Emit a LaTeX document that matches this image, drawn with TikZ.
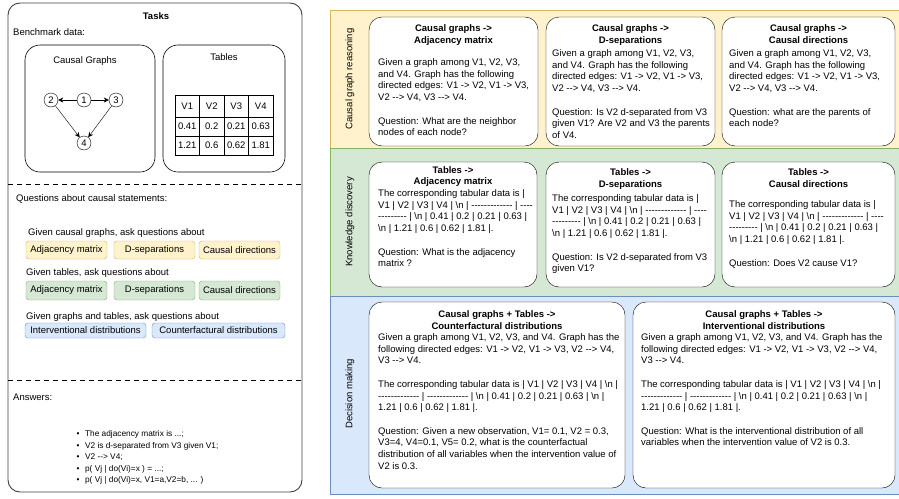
\documentclass[tikz,border=0pt]{standalone}
\usepackage{fontspec}
\setmainfont{Liberation Sans}[Ligatures=TeXOff]
\usetikzlibrary{arrows.meta}
\definecolor{ylwfill}{HTML}{FFF2CC}
\definecolor{ylwdraw}{HTML}{D6B656}
\definecolor{grnfill}{HTML}{D5E8D4}
\definecolor{grndraw}{HTML}{82B366}
\definecolor{blufill}{HTML}{DAE8FC}
\definecolor{bludraw}{HTML}{6C8EBF}
\newcommand{\bsn}{\textbackslash n}

\begin{document}
\begin{tikzpicture}[x=1pt, y=-1pt,
    font=\fontsize{9.5}{11.7}\selectfont,
    panel/.style={draw=black!75, line width=0.9pt, rounded corners=12pt, inner sep=0pt},
    card/.style={draw, fill=white, rounded corners=13pt, inner sep=0pt},
    head/.style={anchor=north, align=center, inner sep=0pt, font=\fontsize{9.5}{11.7}\selectfont\bfseries},
    body/.style={anchor=north west, align=left, inner sep=0pt},
    lbl/.style={anchor=west, inner sep=0pt},
    tagbox/.style={draw, rounded corners=3pt, inner sep=0pt, minimum width=81},
    ylwtag/.style={tagbox, fill=ylwfill, draw=ylwdraw, minimum height=18},
    grntag/.style={tagbox, fill=grnfill, draw=grndraw, minimum height=19},
    blutag/.style={tagbox, fill=blufill, draw=bludraw, minimum height=15},
    vtx/.style={circle, draw, minimum size=14, inner sep=0pt},
    edge/.style={-{Stealth[length=5pt, width=5pt]}},
    cell/.style={draw, minimum width=24.5, inner sep=0pt},
    sepline/.style={line width=0.9pt, dash pattern=on 5pt off 4pt}]

    \useasboundingbox (0,0) rectangle (899,498);
    \clip (0,0) rectangle (899,498);

    % Left panel
    \node[panel, minimum width=294, minimum height=489] (tasks) at (155,247.5) {};
    \node[font=\fontsize{9.5}{11.7}\selectfont\bfseries, inner sep=0pt] (taskstitle) at (156,16) {Tasks};
    \node[lbl] (bench) at (13,32) {Benchmark data:};

    % Benchmark boxes
    \node[panel, draw=black, line width=0.6pt, rounded corners=15pt, minimum width=130, minimum height=127] (cgbox) at (90,108.5) {};
    \node[inner sep=0pt] (cglabel) at (85,61) {Causal Graphs};
    \node[panel, draw=black, line width=0.6pt, rounded corners=15pt, minimum width=122, minimum height=127] (tbbox) at (224,108.5) {};
    \node[inner sep=0pt] (tblabel) at (224,57) {Tables};

    % Graph
    \node[vtx] (n2) at (51,100) {2};
    \node[vtx] (n1) at (84,100) {1};
    \node[vtx] (n3) at (116,100) {3};
    \node[vtx] (n4) at (84,143) {4};
    \draw[edge] (n1) -- (n2);
    \draw[edge] (n1) -- (n3);
    \draw[edge] (n2) -- (n4);
    \draw[edge] (n3) -- (n4);

    % Table
    \foreach \v [count=\c] in {V1,V2,V3,V4}
      \node[cell, minimum height=22] (th\c) at ({162.75+24.5*\c},106) {\v};
    \foreach \v [count=\c] in {0.41,0.2,0.21,0.63}
      \node[cell, minimum height=19] (ta\c) at ({162.75+24.5*\c},126.5) {\v};
    \foreach \v [count=\c] in {1.21,0.6,0.62,1.81}
      \node[cell, minimum height=19] (tb\c) at ({162.75+24.5*\c},145.5) {\v};

    \draw[sepline] (8,184) -- (302,184);
    \draw[sepline] (8,380) -- (302,380);

    % Questions
    \node[lbl] (qtitle) at (16,199) {Questions about causal statements:};
    \node[lbl] (qgraph) at (28,233) {Given causal graphs, ask questions about};
    \node[ylwtag] (yadj) at (66.5,250) {Adjacency matrix};
    \node[ylwtag] (ydsep) at (154.5,250) {D-separations};
    \node[ylwtag] (ydir) at (239.5,250) {Causal directions};
    \node[lbl] (qtable) at (26,273) {Given tables, ask questions about};
    \node[grntag] (gadj) at (66.5,290.5) {Adjacency matrix};
    \node[grntag] (gdsep) at (154.5,290.5) {D-separations};
    \node[grntag] (gdir) at (239.5,290.5) {Causal directions};
    \node[lbl] (qboth) at (26,317) {Given graphs and tables, ask questions about};
    \node[blutag, minimum width=121] (bint) at (85.5,330.5) {Interventional distributions};
    \node[blutag, minimum width=133] (bcf) at (218.5,330.5) {Counterfactural distributions};

    % Answers
    \node[lbl] (anstitle) at (13,397) {Answers:};
    \node[body, font=\fontsize{8.3}{11.5}\selectfont] (anslist) at (76.5,430.5)
      {\textbullet\hspace{5.5pt}The adjacency matrix is ...;\\
       \textbullet\hspace{5.5pt}V2 is d-separated from V3 given V1;\\
       \textbullet\hspace{5.5pt}V2 --> V4;\\
       \textbullet\hspace{5.5pt}p( Vj | do(Vi)=x ) = ...;\\
       \textbullet\hspace{5.5pt}p( Vj | do(Vi)=x, V1=a,V2=b, ... )};

    % Right panel bands
    \filldraw[draw=ylwdraw, fill=ylwfill] (330,10) rectangle (903,148);
    \filldraw[draw=grndraw, fill=grnfill] (330,148) rectangle (903,296.5);
    \filldraw[draw=bludraw, fill=blufill] (330,296.5) rectangle (903,494);
    \node[rotate=90, inner sep=0pt] (lblreason) at (350,79) {Causal graph reasoning};
    \node[rotate=90, inner sep=0pt] (lblknow) at (350,222) {Knowledge discovery};
    \node[rotate=90, inner sep=0pt] (lbldec) at (350,394) {Decision making};

    % Causal graph reasoning
    \node[card, minimum width=169, minimum height=129] (cgadj) at (453.5,81.5) {};
    \node[head] (cgadjhead) at (453.5,24.5) {Causal graphs ->\\Adjacency matrix};
    \node[body] (cgadjbody) at (378,58.5) {Given a graph among V1, V2, V3,\\and V4. Graph has the following\\directed edges: V1 -> V2, V1 -> V3,\\V2 --> V4, V3 --> V4.\\[11.7pt]Question: What are the neighbor\\nodes of each node?};

    \node[card, minimum width=169, minimum height=129] (cgdsep) at (630.5,81.5) {};
    \node[head] (cgdsephead) at (630.5,24.5) {Causal graphs ->\\D-separations};
    \node[body] (cgdsepbody) at (552,49.5) {Given a graph among V1, V2, V3,\\and V4. Graph has the following\\directed edges: V1 -> V2, V1 -> V3,\\V2 --> V4, V3 --> V4.\\[11.7pt]Question: Is V2 d-separated from V3\\given V1? Are V2 and V3 the parents\\of V4.};

    \node[card, minimum width=173, minimum height=129] (cgdir) at (808.5,81.5) {};
    \node[head] (cgdirhead) at (808.5,24.5) {Causal graphs ->\\Causal directions};
    \node[body] (cgdirbody) at (729,49.5) {Given a graph among V1, V2, V3,\\and V4. Graph has the following\\directed edges: V1 -> V2, V1 -> V3,\\V2 --> V4, V3 --> V4.\\[11.7pt]Question: what are the parents of\\each node?};

    % Knowledge discovery
    \node[card, minimum width=168, minimum height=125] (tbadj) at (453,224.5) {};
    \node[head] (tbadjhead) at (453,166) {Tables ->\\Adjacency matrix};
    \node[body] (tbadjbody) at (378,189.5) {The corresponding tabular data is |\\V1 | V2 | V3 | V4 | \bsn{} | ------------- | ----\\--------- | \bsn{} | 0.41 | 0.2 | 0.21 | 0.63 |\\\bsn{} | 1.21 | 0.6 | 0.62 | 1.81 |.\\[11.7pt]Question: What is the adjacency\\matrix ?};

    \node[card, minimum width=169, minimum height=125] (tbdsep) at (630.5,224.5) {};
    \node[head] (tbdsephead) at (630.5,168.5) {Tables ->\\D-separations};
    \node[body] (tbdsepbody) at (552,194.5) {The corresponding tabular data is |\\V1 | V2 | V3 | V4 | \bsn{} | ------------- | ----\\--------- | \bsn{} | 0.41 | 0.2 | 0.21 | 0.63 |\\\bsn{} | 1.21 | 0.6 | 0.62 | 1.81 |.\\[11.7pt]Question: Is V2 d-separated from V3\\given V1?};

    \node[card, minimum width=173, minimum height=125] (tbdir) at (808.5,224.5) {};
    \node[head] (tbdirhead) at (808.5,168.5) {Tables ->\\Causal directions};
    \node[body] (tbdirbody) at (729,200.5) {The corresponding tabular data is |\\V1 | V2 | V3 | V4 | \bsn{} | ------------- | ----\\--------- | \bsn{} | 0.41 | 0.2 | 0.21 | 0.63 |\\\bsn{} | 1.21 | 0.6 | 0.62 | 1.81 |.\\[11.7pt]Question: Does V2 cause V1?};

    % Decision making
    \node[card, minimum width=256, minimum height=186] (dmcf) at (497,395) {};
    \node[head] (dmcfhead) at (497,310.5) {Causal graphs + Tables ->\\Counterfactural distributions};
    \node[body] (dmcfbody) at (378,333.5) {Given a graph among V1, V2, V3, and V4. Graph has the\\following directed edges: V1 -> V2, V1 -> V3, V2 --> V4,\\V3 --> V4.\\[11.7pt]The corresponding tabular data is | V1 | V2 | V3 | V4 | \bsn{} |\\------------- | ------------- | \bsn{} | 0.41 | 0.2 | 0.21 | 0.63 | \bsn{} |\\1.21 | 0.6 | 0.62 | 1.81 |.\\[11.7pt]Question: Given a new observation, V1= 0.1, V2 = 0.3,\\V3=4, V4=0.1, V5= 0.2, what is the counterfactual\\distribution of all variables when the intervention value of\\V2 is 0.3.};

    \node[card, minimum width=262, minimum height=186] (dmint) at (764,395) {};
    \node[head] (dminthead) at (764,310.5) {Causal graphs + Tables ->\\Interventional distributions};
    \node[body] (dmintbody) at (641,333.5) {Given a graph among V1, V2, V3, and V4. Graph has the\\following directed edges: V1 -> V2, V1 -> V3, V2 --> V4,\\V3 --> V4.\\[11.7pt]The corresponding tabular data is | V1 | V2 | V3 | V4 | \bsn{} |\\------------- | ------------- | \bsn{} | 0.41 | 0.2 | 0.21 | 0.63 | \bsn{} |\\1.21 | 0.6 | 0.62 | 1.81 |.\\[11.7pt]Question: What is the interventional distribution of all\\variables when the intervention value of V2 is 0.3.};

\end{tikzpicture}
\end{document}
